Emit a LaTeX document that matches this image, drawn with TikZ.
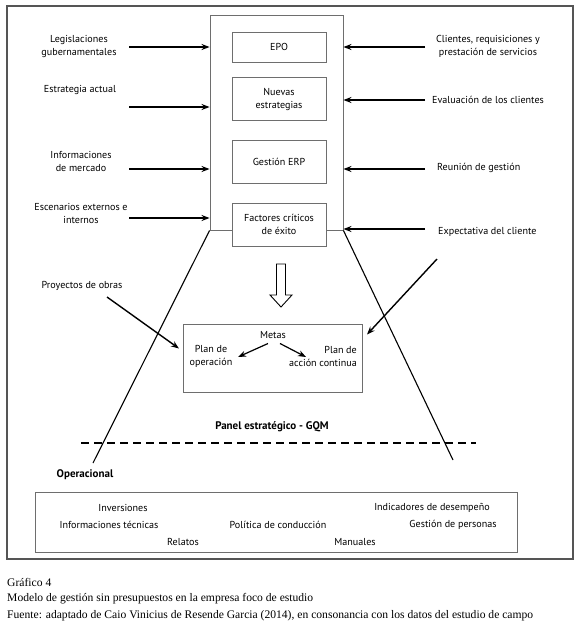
\documentclass[tikz,border=0pt]{standalone}
\usepackage{fontspec}
\setmainfont{Liberation Serif}
\newfontfamily\lblfont{PT Sans}
\usetikzlibrary{arrows.meta}
\definecolor{framegray}{RGB}{85,85,85}
\definecolor{boxgray}{RGB}{110,110,110}
\begin{document}
\begin{tikzpicture}[x=1pt,y=-1pt,
  lbl/.style={font=\lblfont\fontsize{10.1}{13}\selectfont, inner sep=0pt, align=center},
  bold lbl/.style={lbl, font=\lblfont\bfseries\fontsize{11}{13}\selectfont},
  capt/.style={font=\fontsize{11.6}{14}\selectfont, inner sep=0pt, anchor=west},
  boxnode/.style={draw=boxgray, line width=0.9pt, minimum width=94pt, minimum height=43pt, inner sep=0pt, align=center, fill=white, font=\lblfont\fontsize{10.1}{13}\selectfont},
  arr/.style={-{Stealth[length=8pt,width=6pt]}, line width=1.4pt},
  slant/.style={line width=1.1pt}
]
\useasboundingbox (0,0) rectangle (580,625);
% outer frame
\draw[framegray, line width=1.6pt] (7,6) rectangle (573,559);

% tall panel
\node[draw=boxgray, line width=0.9pt, minimum width=133pt, minimum height=215pt, inner sep=0pt] (panel) at (276.5,122.5) {};

% inner boxes
\node[boxnode, minimum height=30pt] (epo) at (279,47) {EPO};
\node[boxnode] (nuevas) at (279,99) {Nuevas\\estrategias};
\node[boxnode] (erp) at (279,161.5) {Gestión ERP};
\node[boxnode] (fce) at (279,224.5) {Factores críticos\\de éxito};

% left labels
\node[lbl] (legis) at (79,46.5) {Legislaciones\\gubernamentales};
\node[lbl] (estr) at (80,90) {Estrategia actual};
\node[lbl] (info) at (81,161) {Informaciones\\de mercado};
\node[lbl] (esc) at (81,213) {Escenarios externos e\\internos};

% right labels
\node[lbl] (cli) at (488,46.5) {Clientes, requisiciones y\\prestación de servicios};
\node[lbl, anchor=west] (eval) at (432,99.5) {Evaluación de los clientes};
\node[lbl, anchor=west] (reun) at (437,168) {Reunión de gestión};
\node[lbl, anchor=west] (expe) at (438,232) {Expectativa del cliente};

% arrow end coordinates
\coordinate (l1) at (129,47);  \coordinate (p1) at (panel.west |- l1);
\coordinate (l2) at (129,107); \coordinate (p2) at (panel.west |- l2);
\coordinate (l3) at (129,169); \coordinate (p3) at (panel.west |- l3);
\coordinate (l4) at (129,218); \coordinate (p4) at (panel.west |- l4);
\coordinate (r1) at (425,47);  \coordinate (q1) at (panel.east |- r1);
\coordinate (r2) at (425,100); \coordinate (q2) at (panel.east |- r2);
\coordinate (r3) at (425,169); \coordinate (q3) at (panel.east |- r3);
\coordinate (r4) at (425,229); \coordinate (q4) at (panel.east |- r4);
\draw[arr] (l1) -- (p1);
\draw[arr] (l2) -- (p2);
\draw[arr] (l3) -- (p3);
\draw[arr] (l4) -- (p4);
\draw[arr] (r1) -- (q1);
\draw[arr] (r2) -- (q2);
\draw[arr] (r3) -- (q3);
\draw[arr] (r4) -- (q4);

% slanted pyramid sides
\coordinate (lb) at (93,463);
\coordinate (rb) at (453,460);
\draw[slant] (panel.south west) -- (lb);
\draw[slant] (panel.south east) -- (rb);

% hollow down arrow
\draw[line width=0.9pt, fill=white] (276.5,264) -- (285.5,264) -- (285.5,295) -- (292,295) -- (281,307) -- (270,295) -- (276.5,295) -- cycle;

% metas box
\node[draw=boxgray, line width=0.9pt, minimum width=179pt, minimum height=68pt, inner sep=0pt, fill=white] (metasbox) at (272.5,358) {};
\node[lbl] (metas) at (273,335) {Metas};
\node[lbl] (planop) at (211,356) {Plan de\\operación};
\node[lbl, align=right, anchor=east] (planac) at (357,356) {Plan de\\acción continua};
\coordinate (ma1) at (268,343.5); \coordinate (mb1) at (238,357);
\coordinate (ma2) at (280,343.5); \coordinate (mb2) at (306,357);
\draw[arr, line width=1.2pt] (ma1) -- (mb1);
\draw[arr, line width=1.2pt] (ma2) -- (mb2);

% side inputs to metas
\node[lbl] (proy) at (82,286) {Proyectos de obras};
\coordinate (pa) at (107,297); \coordinate (pb) at (179,348.5);
\draw[arr] (pa) -- (pb);
\coordinate (ea) at (437,259); \coordinate (eb) at (367,334.5);
\draw[arr] (ea) -- (eb);

% strategic panel
\node[bold lbl] (panellbl) at (272,427) {Panel estratégico - GQM};
\coordinate (da) at (81,443); \coordinate (db) at (476,443);
\draw[line width=1.3pt, dash pattern=on 8pt off 5pt] (da) -- (db);
\node[bold lbl] (oper) at (85,475) {Operacional};

% operational box
\node[draw=boxgray, line width=0.9pt, minimum width=482pt, minimum height=60pt, inner sep=0pt] (opbox) at (276,522) {};
\node[lbl] (inv) at (123,508) {Inversiones};
\node[lbl] (indic) at (432,508) {Indicadores de desempeño};
\node[lbl] (itec) at (109,525) {Informaciones técnicas};
\node[lbl] (poli) at (278,525) {Política de conducción};
\node[lbl] (gper) at (453,525) {Gestión de personas};
\node[lbl] (rel) at (183,542) {Relatos};
\node[lbl] (man) at (355,542) {Manuales};

% caption
\node[capt] (c1) at (7,582) {Gráfico 4};
\node[capt] (c2) at (7,599) {Modelo de gestión sin presupuestos en la empresa foco de estudio};
\node[capt] (c3) at (7,616) {Fuente: adaptado de Caio Vinicius de Resende Garcia (2014), en consonancia con los datos del estudio de campo};
\end{tikzpicture}
\end{document}
